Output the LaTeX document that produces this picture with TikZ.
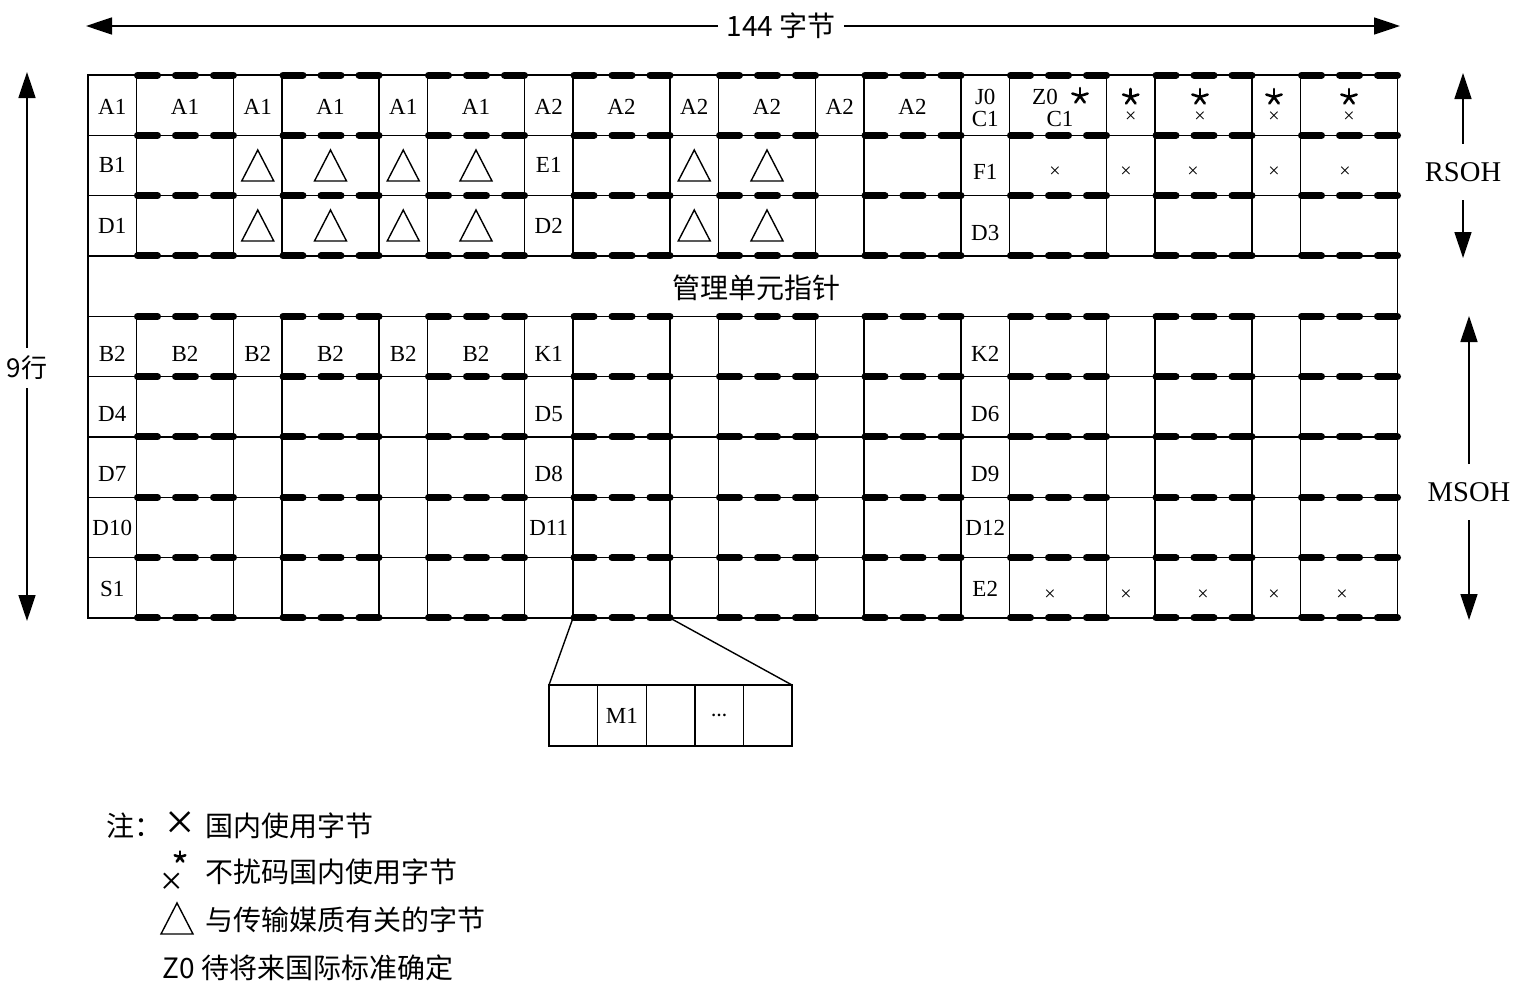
\documentclass[tikz,border=0pt]{standalone}
\usepackage{fontspec}
\usepackage{tikz}
\usetikzlibrary{positioning,arrows.meta}
\setmainfont{Liberation Serif}
\newfontfamily\cjk{Noto Sans CJK SC}

\begin{document}
\begin{tikzpicture}[
		x=0.5pt, y=-0.5pt,
		thinline/.style={line width=0.7pt},
		thickdash/.style={line width=3.5pt, line cap=round, dash pattern=on 10pt off 9pt},
		cell/.style={inner sep=0pt, align=center, font=\fontsize{11.5}{11}\selectfont},
		xsign/.style={inner sep=0pt, font=\fontsize{10}{10}\selectfont},
		zh/.style={inner sep=1pt, font=\fontsize{14}{14}\selectfont\cjk},
		arr/.style={line width=0.8pt, -{Triangle[length=13pt,width=8.5pt]}},
		mcell/.style={draw, thinline, minimum width=24.3pt, minimum height=30.5pt,
			outer sep=0pt, inner sep=0pt, font=\fontsize{11.5}{11}\selectfont},
		tri/.pic={\draw[thinline] (-16,15) -- (16,15) -- (0,-16) -- cycle;},
		astr/.pic={\foreach \a in {-90,-18,54,126,198}
			\draw[line width=1.3pt, line cap=round] (0,0) -- (\a:8);},
		]
		\useasboundingbox (0,0) rectangle (1515,991);

		% frame and rows
		\draw[thinline] (88,75) rectangle (1397.5,618);
		\foreach \j in {1,...,8}
			\draw[thinline] (88,{75+60.33*\j}) -- (1397.5,{75+60.33*\j});
		% columns, broken at the pointer row
		\foreach \p in {0,...,8} {
			\draw[thinline] ({136.5+145.5*\p},75) -- ({136.5+145.5*\p},256);
			\draw[thinline] ({136.5+145.5*\p},316.3) -- ({136.5+145.5*\p},618);
		}
		\foreach \p in {1,...,8} {
			\draw[thinline] ({88+145.5*\p},75) -- ({88+145.5*\p},256);
			\draw[thinline] ({88+145.5*\p},316.3) -- ({88+145.5*\p},618);
		}
		% thick dashes over the wide columns
		\foreach \p in {0,...,8}
			\foreach \j in {0,...,9}
				\draw[thickdash] ({137.5+145.5*\p},{75+60.33*\j}) -- ++(96,0);

		% RSOH
		\foreach \x [count=\i] in {112.25,185,257.75,330.5,403.25,476}
			\node[cell] (aone\i) at (\x,107) {A1};
		\foreach \x [count=\i] in {548.75,621.5,694.25,767,839.75,912.5}
			\node[cell] (atwo\i) at (\x,107) {A2};
		\node[cell] (jzero) at (985.25,108) {J0\\C1};
		\node[cell] (zzero) at (1045,97) {Z0};
		\node[cell] (cone) at (1060,119) {C1};
		\pic at (1080,96) {astr};
		\foreach \x [count=\i] in {1130.75,1200,1274,1349} {
			\pic at (\x,97) {astr};
			\node[xsign] (rx\i) at (\x,117) {×};
		}
		\node[cell] (bone) at (112.25,165) {B1};
		\node[cell] (eone) at (548.75,165) {E1};
		\node[cell] (fone) at (985.25,172) {F1};
		\foreach \x [count=\i] in {1055,1126,1193,1274,1345}
			\node[xsign] (fx\i) at (\x,172) {×};
		\node[cell] (done) at (112.25,226) {D1};
		\node[cell] (dtwo) at (548.75,226) {D2};
		\node[cell] (dthree) at (985.25,233) {D3};
		\foreach \x in {257.75,330.5,403.25,476,694.25,767} {
			\pic at (\x,166) {tri};
			\pic at (\x,226) {tri};
		}

		\node[zh] (aupointer) at (756,288) {管理单元指针};

		% MSOH
		\foreach \x [count=\i] in {112.25,185,257.75,330.5,403.25,476}
			\node[cell] (btwo\i) at (\x,354) {B2};
		\node[cell] (kone) at (548.75,354) {K1};
		\node[cell] (ktwo) at (985.25,354) {K2};
		\node[cell] (dfour) at (112.25,414) {D4};
		\node[cell] (dfive) at (548.75,414) {D5};
		\node[cell] (dsix) at (985.25,414) {D6};
		\node[cell] (dseven) at (112.25,474) {D7};
		\node[cell] (deight) at (548.75,474) {D8};
		\node[cell] (dnine) at (985.25,474) {D9};
		\node[cell] (dten) at (112.25,528) {D10};
		\node[cell] (deleven) at (548.75,528) {D11};
		\node[cell] (dtwelve) at (985.25,528) {D12};
		\node[cell] (sone) at (112.25,589) {S1};
		\node[cell] (etwo) at (985.25,589) {E2};
		\foreach \x [count=\i] in {1050,1126,1203,1274,1342}
			\node[xsign] (ex\i) at (\x,595) {×};

		% M1 bytes
		\node[mcell] (mb1) at (573.3,715.5) {};
		\node[mcell, right=0pt of mb1] (mb2) {M1};
		\node[mcell, right=0pt of mb2] (mb3) {};
		\node[mcell, right=0pt of mb3] (mb4) {\fontsize{8}{8}\selectfont\textbf{…}};
		\node[mcell, right=0pt of mb4] (mb5) {};
		\coordinate (fanl) at (573,618);
		\coordinate (fanr) at (670,618);
		\draw[thinline] (fanl) -- (mb1.north west);
		\draw[thinline] (fanr) -- (mb5.north east);

		% dimensions
		\node[zh, inner sep=4pt] (bytes) at (781,26) {144 字节};
		\coordinate (bl) at (86,26);
		\coordinate (br) at (1400,26);
		\draw[arr] (bytes) -- (bl);
		\draw[arr] (bytes) -- (br);
		\node[zh, font=\fontsize{13}{13}\selectfont\cjk, inner sep=4pt] (rows) at (27,368) {9行};
		\coordinate (rt) at (27,72);
		\coordinate (rb) at (27,621);
		\draw[arr] (rows) -- (rt);
		\draw[arr] (rows) -- (rb);
		\node[font=\fontsize{14.3}{14}\selectfont, inner sep=9pt] (rsoh) at (1463,172) {RSOH};
		\coordinate (rst) at (1463,73);
		\coordinate (rsb) at (1463,258);
		\draw[arr] (rsoh) -- (rst);
		\draw[arr] (rsoh) -- (rsb);
		\node[font=\fontsize{14.3}{14}\selectfont, inner sep=9pt] (msoh) at (1469,492) {MSOH};
		\coordinate (mst) at (1469,316);
		\coordinate (msb) at (1469,620);
		\draw[arr] (msoh) -- (mst);
		\draw[arr] (msoh) -- (msb);

		% legend
		\node[zh, anchor=west] (note) at (104,826) {注：};
		\node[inner sep=0pt, font=\fontsize{26}{26}\selectfont] (lx) at (180,826) {×};
		\node[zh, anchor=west] (lone) at (203,826) {国内使用字节};
		\node[inner sep=0pt, font=\fontsize{20}{20}\selectfont] (lxs) at (172,884) {×};
		\pic[scale=0.7] at (180,857) {astr};
		\node[zh, anchor=west] (ltwo) at (203,872) {不扰码国内使用字节};
		\pic at (177,919) {tri};
		\node[zh, anchor=west] (lthree) at (203,920) {与传输媒质有关的字节};
		\node[zh, anchor=west] (lfour) at (160,968) {Z0 待将来国际标准确定};
\end{tikzpicture}
\end{document}
